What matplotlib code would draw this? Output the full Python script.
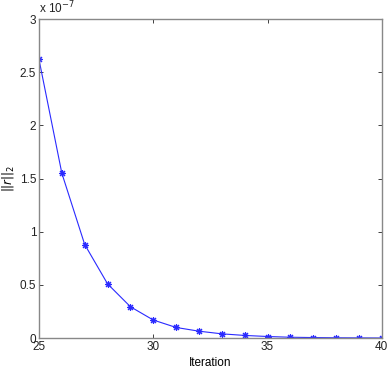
import matplotlib
matplotlib.use("Agg")
import matplotlib.pyplot as plt
import numpy as np

iterations = [25, 26, 27, 28, 29, 30, 31, 32, 33, 34, 35, 36, 37, 38, 39, 40]
residual = [2.62e-7, 1.55e-7, 0.88e-7, 0.51e-7, 0.295e-7, 0.17e-7, 0.10e-7, 0.065e-7,
            0.04e-7, 0.025e-7, 0.015e-7, 0.008e-7, 0.005e-7, 0.003e-7, 0.002e-7, 0.001e-7]
scale = 1e-7
xticks = [25, 30, 35, 40]
yticks = [0, 0.5, 1, 1.5, 2, 2.5, 3]

plt.rcParams['font.family'] = ['Liberation Sans', 'DejaVu Sans']
fig = plt.figure(figsize=(3.9, 3.74), dpi=100)
ax = fig.add_axes([0.1, 0.096, 0.879, 0.853])
ax.plot(iterations, np.array(residual) / scale, color='#2a2aff', lw=0.8,
        marker=(8, 2, 0), markersize=5, markeredgewidth=0.8)
ax.set_xlim(25, 40)
ax.set_ylim(0, 3)
ax.set_xticks(xticks)
ax.set_yticks(yticks)
ax.set_yticklabels(['0', '0.5', '1', '1.5', '2', '2.5', '3'])
ax.tick_params(direction='in', length=3, width=0.6, labelsize=8.5, top=True, right=True,
               colors='#222222', pad=2)
for s in ax.spines.values():
    s.set_color('#888888')
    s.set_linewidth(1.0)
ax.set_xlabel('Iteration', fontsize=8.5, labelpad=3)
ax.set_ylabel(r'$||r||_2$', fontsize=8.5, labelpad=3)
ax.text(0.0, 1.008, r'x 10$^{-7}$', transform=ax.transAxes, fontsize=8.5, ha='left', va='bottom',
        color='#222222')
fig.savefig('out.png', dpi=100)
